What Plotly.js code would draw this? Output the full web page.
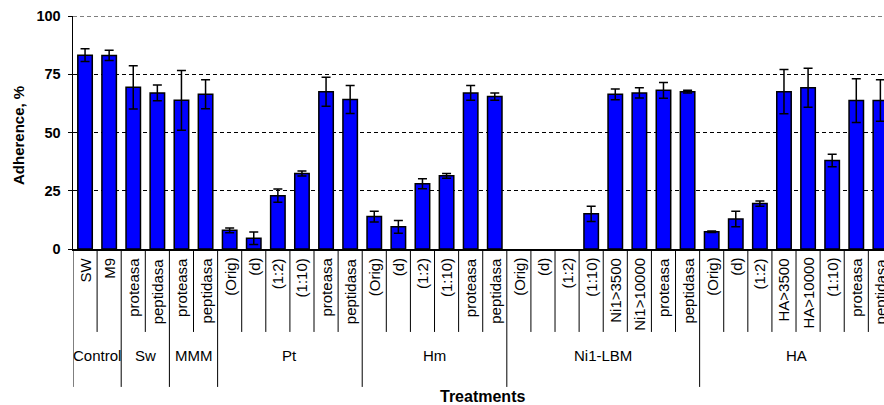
<!DOCTYPE html>
<html><head><meta charset="utf-8">
<script src="https://cdn.plot.ly/plotly-3.0.1.min.js"></script>
<style>html,body{margin:0;padding:0;background:#fff;overflow:hidden}</style>
</head><body><div id="chart" style="width:884px;height:405px"></div>
<script>
const groupNames = ["Control","Sw","MMM","Pt","Hm","Ni1-LBM","HA"];
const groupSizes = [2,2,2,6,6,8,8];
const labels = ["SW","M9","proteasa","peptidasa","proteasa","peptidasa",
 "(Orig)","(d)","(1:2)","(1:10)","proteasa","peptidasa",
 "(Orig)","(d)","(1:2)","(1:10)","proteasa","peptidasa",
 "(Orig)","(d)","(1:2)","(1:10)","Ni1>3500","Ni1>10000","proteasa","peptidasa",
 "(Orig)","(d)","(1:2)","HA>3500","HA>10000","(1:10)","proteasa","peptidasa"];
// null = no bar shown for that treatment
const adherence = [83.2,83.1,69.4,67.0,63.8,66.4,
 8.0,4.6,22.9,32.4,67.5,64.2,
 13.9,9.5,28.0,31.4,67.0,65.4,
 null,null,null,15.1,66.4,67.0,68.1,67.5,
 7.4,12.9,19.5,67.5,69.2,38.0,63.7,63.7];
const errors = [2.7,2.2,9.3,3.4,12.8,6.2,
 1.0,2.7,2.8,1.1,6.2,6.0,
 2.3,2.7,2.1,1.0,3.2,1.6,
 null,null,null,3.3,2.3,2.2,3.4,0.6,
 0.3,3.3,1.1,9.5,8.4,2.7,9.4,8.9];
const yTicks = [0,25,50,75,100];

const FONT = "Liberation Sans, Arial, sans-serif";
const idx = labels.map((_, i) => i);

const trace = {
  type: "bar", x: idx, y: adherence, width: 0.6,
  marker: {color: "#0000ff", line: {color: "#000", width: 1.5}},
  error_y: {type: "data", array: errors, visible: true, color: "#000", thickness: 1.5, width: 4.5},
  hoverinfo: "skip"
};

// group boundaries
const groupStarts = [];
let acc = 0;
groupSizes.forEach(s => { groupStarts.push(acc); acc += s; });
const groupBounds = new Set(groupStarts.map(s => s - 0.5).concat([acc - 0.5]));

const shapes = [];
for (let i = 0; i <= labels.length; i++) {
  const b = i - 0.5;
  const isGroup = groupBounds.has(b);
  shapes.push({type: "line", xref: "x", yref: "paper", x0: b, x1: b, y0: 0, y1: isGroup ? -0.592 : -0.356,
    line: {color: "#000", width: 1}});
}
// dashed gridline at the top value
shapes.push({type: "line", xref: "paper", yref: "y", x0: 0, x1: 1, y0: yTicks[yTicks.length - 1], y1: yTicks[yTicks.length - 1],
  line: {color: "#000", width: 1, dash: "4px,3px"}});

const annotations = [];
labels.forEach((t, i) => {
  annotations.push({xref: "x", yref: "paper", x: i, y: 0, yshift: -7, text: t, showarrow: false,
    textangle: -90, xanchor: "center", yanchor: "top", font: {family: FONT, size: 15, color: "#000"}});
});
groupNames.forEach((g, k) => {
  const c = groupStarts[k] + (groupSizes[k] - 1) / 2;
  annotations.push({xref: "x", yref: "paper", x: c, y: -0.459, text: g, showarrow: false,
    xanchor: "center", yanchor: "middle", font: {family: FONT, size: 15, color: "#000"}});
});
annotations.push({xref: "x", yref: "paper", x: (labels.length - 1) / 2, y: -0.631, text: "Treatments", showarrow: false,
  xanchor: "center", yanchor: "middle", font: {family: FONT, size: 16, color: "#000", weight: "bold"}});
annotations.push({xref: "paper", yref: "paper", x: 0, xshift: -54, y: 0.485, text: "Adherence, %", showarrow: false,
  textangle: -90, xanchor: "center", yanchor: "middle", font: {family: FONT, size: 15, color: "#000", weight: "bold"}});

const layout = {
  width: 884, height: 405,
  margin: {l: 73, r: 0, t: 16, b: 156},
  paper_bgcolor: "#fff", plot_bgcolor: "#fff",
  showlegend: false,
  xaxis: {range: [-0.5, 33.15], showticklabels: false, ticks: "", showgrid: false, zeroline: false,
    showline: true, linecolor: "#000", linewidth: 1.5, fixedrange: true},
  yaxis: {range: [0, 100], tickvals: yTicks, ticktext: yTicks.map(String), ticks: "outside", ticklen: 4, tickcolor: "#000",
    tickwidth: 1, showline: true, linecolor: "#000", linewidth: 1.5, showgrid: true, gridcolor: "#000",
    gridwidth: 1, griddash: "4px,3px", zeroline: false, ticklabelstandoff: 4,
    tickfont: {family: FONT, size: 14.5, color: "#000", weight: "bold"}, fixedrange: true},
  shapes: shapes,
  annotations: annotations
};

Plotly.newPlot("chart", [trace], layout, {displayModeBar: false, staticPlot: true});
</script></body></html>
